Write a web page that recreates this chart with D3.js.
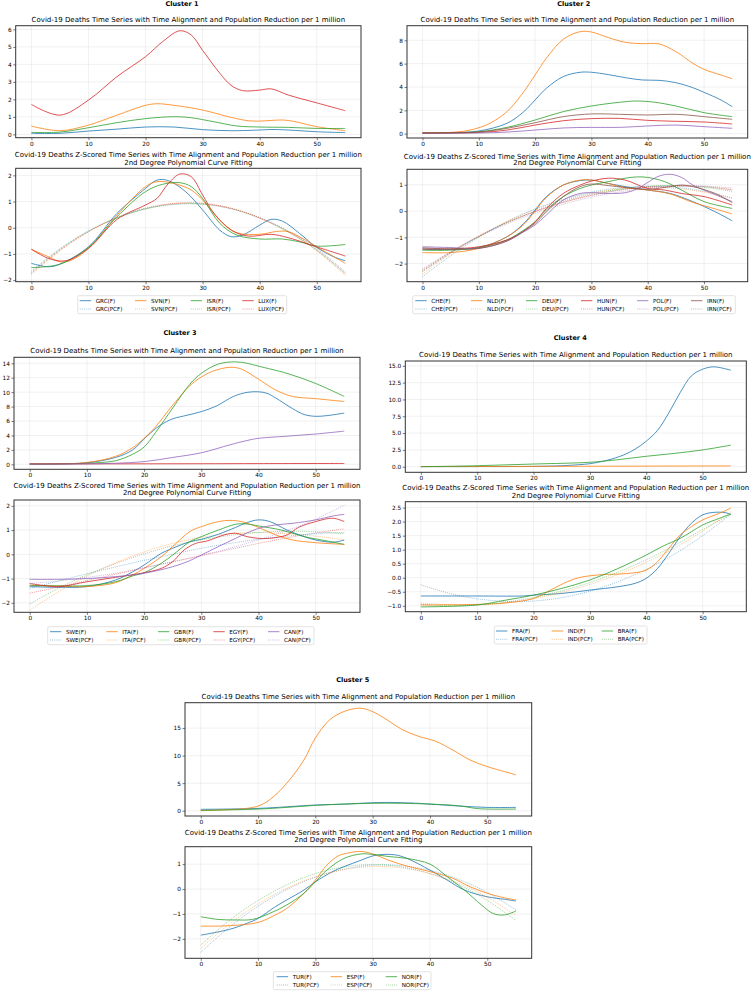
<!DOCTYPE html>
<html><head><meta charset="utf-8">
<script src="https://cdn.jsdelivr.net/npm/d3@7"></script>
<style>body{margin:0;background:#fff}svg{display:block}text{font-family:"DejaVu Sans",sans-serif;fill:#000}</style>
</head><body><svg id="c" width="754" height="992"></svg>
<script>
// ---------------- DATA ----------------
const xTicks = [0, 10, 20, 30, 40, 50];
const pcfX = [0, 5, 10, 15, 20, 25, 30, 35, 40, 45, 50, 55];

// Cluster 1
const c1Countries = ["GRC", "SVN", "ISR", "LUX"];
const c1TopTicks = [0, 1, 2, 3, 4, 5, 6];
const c1ZTicks = [-2, -1, 0, 1, 2];
const c1Deaths = {
  GRC: [[0,0.06],[5,0.06],[10,0.19],[15,0.3],[20,0.42],[25,0.42],[30,0.27],[35,0.21],[40,0.25],[42,0.28],[45,0.25],[50,0.15],[55,0.1]],
  SVN: [[0,0.47],[5,0.21],[10,0.53],[15,1.1],[20,1.66],[22,1.75],[25,1.66],[30,1.39],[35,0.97],[38,0.78],[40,0.76],[44,0.82],[46,0.74],[50,0.44],[55,0.21]],
  ISR: [[0,0.11],[5,0.13],[10,0.38],[15,0.67],[20,0.9],[25,1.01],[28,0.95],[32,0.72],[36,0.48],[40,0.42],[45,0.4],[50,0.34],[55,0.34]],
  LUX: [[0,1.71],[5,1.1],[10,1.96],[15,3.3],[20,4.44],[23,5.3],[26,5.92],[28,5.68],[30,4.8],[33,3.5],[35,2.8],[37,2.5],[40,2.53],[42,2.6],[45,2.25],[50,1.8],[55,1.35]]
};
const c1Z = {
  GRC: [[0,-1.36],[3,-1.49],[5,-1.39],[10,-0.73],[15,0.55],[20,1.5],[22,1.82],[24,1.8],[27,1.38],[30,0.68],[33,-0.09],[35,-0.34],[37,-0.28],[40,0.1],[42,0.32],[44,0.25],[47,-0.22],[50,-0.75],[53,-1.11],[55,-1.26]],
  SVN: [[0,-0.83],[3,-1.11],[5,-1.3],[7,-1.24],[10,-0.79],[15,0.48],[20,1.57],[22,1.76],[25,1.69],[28,1.44],[30,1.06],[33,0.29],[36,-0.19],[40,-0.25],[43,-0.14],[45,-0.15],[48,-0.47],[50,-0.73],[55,-1.36]],
  ISR: [[0,-1.52],[5,-1.39],[10,-0.75],[15,0.42],[20,1.38],[23,1.66],[26,1.72],[28,1.57],[30,1.12],[33,0.17],[36,-0.28],[40,-0.43],[44,-0.43],[47,-0.54],[50,-0.7],[55,-0.64]],
  LUX: [[0,-0.82],[3,-1.17],[6,-1.26],[10,-0.79],[15,0.32],[20,0.87],[22,1.12],[24,1.69],[26,2.05],[28,1.95],[30,1.25],[32,0.55],[35,-0.09],[38,-0.32],[42,-0.25],[45,-0.38],[50,-0.73],[55,-1.08]]
};
const c1PCF = {
  GRC: [-1.65,-0.80,-0.12,0.38,0.72,0.89,0.90,0.73,0.39,-0.12,-0.80,-1.68],
  SVN: [-1.78,-0.88,-0.16,0.37,0.73,0.92,0.93,0.75,0.38,-0.16,-0.88,-1.82],
  ISR: [-1.70,-0.83,-0.13,0.38,0.72,0.90,0.90,0.72,0.36,-0.16,-0.86,-1.76],
  LUX: [-1.74,-0.86,-0.15,0.39,0.75,0.93,0.93,0.74,0.37,-0.15,-0.85,-1.74]
};

// Cluster 2
const c2Countries = ["CHE", "NLD", "DEU", "HUN", "POL", "IRN"];
const c2TopTicks = [0, 2, 4, 6, 8];
const c2ZTicks = [-2, -1, 0, 1];
const c2Deaths = {
  CHE: [[0,0.06],[5,0.09],[10,0.23],[15,0.89],[18,1.89],[20,2.89],[22,3.89],[25,4.89],[28,5.26],[30,5.26],[33,5.06],[36,4.8],[39,4.6],[42,4.57],[45,4.37],[48,3.94],[50,3.54],[53,2.89],[55,2.31]],
  NLD: [[0,0.09],[5,0.11],[8,0.26],[10,0.51],[12,0.89],[15,1.89],[18,3.6],[20,5.03],[22,6.46],[25,8.09],[28,8.74],[30,8.71],[33,8.23],[36,7.83],[39,7.71],[42,7.69],[45,7.03],[48,6.03],[50,5.51],[53,5.03],[55,4.71]],
  DEU: [[0,0.06],[10,0.17],[15,0.54],[20,1.17],[25,1.89],[30,2.37],[35,2.69],[38,2.8],[41,2.71],[45,2.37],[50,1.8],[55,1.46]],
  HUN: [[0,0.06],[10,0.11],[15,0.31],[20,0.74],[25,1.11],[30,1.29],[35,1.31],[40,1.14],[45,1.06],[50,1.0],[55,0.83]],
  POL: [[0,0.03],[10,0.06],[15,0.14],[20,0.31],[25,0.49],[30,0.54],[35,0.54],[40,0.66],[45,0.74],[50,0.6],[55,0.46]],
  IRN: [[0,0.06],[10,0.14],[15,0.46],[20,0.94],[25,1.46],[30,1.69],[35,1.66],[40,1.6],[45,1.66],[50,1.46],[55,1.23]]
};
const c2Z = {
  CHE: [[0,-1.46],[5,-1.46],[10,-1.39],[15,-0.98],[18,-0.47],[20,0.04],[22,0.55],[25,0.99],[28,1.16],[30,1.18],[33,1.05],[36,0.93],[40,0.8],[44,0.67],[48,0.36],[52,-0.03],[55,-0.37]],
  NLD: [[0,-1.58],[5,-1.58],[10,-1.42],[15,-0.98],[18,-0.51],[20,0],[22,0.52],[25,0.99],[28,1.18],[30,1.18],[33,1.05],[36,0.89],[40,0.8],[44,0.65],[48,0.33],[52,0.08],[55,-0.11]],
  DEU: [[0,-1.49],[5,-1.49],[10,-1.39],[15,-1.1],[18,-0.72],[20,-0.41],[22,0.04],[25,0.55],[28,0.86],[30,0.99],[33,1.12],[36,1.25],[38,1.3],[40,1.28],[43,1.12],[46,0.8],[50,0.36],[55,0.1]],
  HUN: [[0,-1.44],[5,-1.44],[10,-1.36],[15,-1.1],[18,-0.76],[20,-0.41],[22,0.1],[25,0.67],[28,0.99],[30,1.14],[33,1.25],[36,1.18],[40,0.86],[43,0.8],[46,0.67],[50,0.55],[55,0.23]],
  POL: [[0,-1.36],[5,-1.39],[10,-1.42],[15,-1.14],[18,-0.79],[20,-0.53],[22,-0.15],[25,0.42],[28,0.67],[30,0.7],[33,0.67],[36,0.7],[38,0.83],[40,1.09],[42,1.33],[44,1.4],[46,1.28],[48,0.99],[50,0.8],[55,0.36]],
  IRN: [[0,-1.4],[10,-1.42],[15,-1.14],[18,-0.76],[20,-0.47],[22,-0.03],[25,0.55],[28,0.93],[30,1.03],[33,0.97],[36,0.9],[40,0.83],[44,0.93],[46,0.99],[48,0.93],[52,0.67],[55,0.32]]
};
const c2PCF = {
  CHE: [-2.5,-1.7,-1.0,-0.4,0.08,0.45,0.72,0.88,0.94,0.9,0.75,0.5],
  NLD: [-2.4,-1.62,-0.96,-0.4,0.06,0.42,0.68,0.84,0.9,0.86,0.72,0.48],
  DEU: [-2.3,-1.6,-0.98,-0.44,0.0,0.37,0.65,0.84,0.95,0.97,0.9,0.75],
  HUN: [-2.25,-1.56,-0.95,-0.44,-0.02,0.33,0.6,0.8,0.92,0.96,0.93,0.82],
  POL: [-2.2,-1.55,-0.98,-0.49,-0.08,0.26,0.53,0.73,0.87,0.94,0.95,0.88],
  IRN: [-2.3,-1.58,-0.96,-0.44,-0.02,0.33,0.6,0.8,0.92,0.96,0.93,0.8]
};

// Cluster 3
const c3Countries = ["SWE", "ITA", "GBR", "EGY", "CAN"];
const c3TopTicks = [0, 2, 4, 6, 8, 10, 12, 14];
const c3ZTicks = [-2, -1, 0, 1, 2];
const c3Deaths = {
  SWE: [[0,0.05],[5,0.07],[10,0.22],[15,0.95],[18,2.0],[20.5,3.9],[22.8,5.4],[25,6.3],[27.5,6.8],[30,7.3],[32.7,8.1],[35.6,9.4],[38,9.97],[40,10.05],[41.5,9.84],[43,9.2],[46,7.7],[48,6.9],[50,6.65],[52,6.75],[55,7.1]],
  ITA: [[0,0.05],[5,0.07],[10,0.25],[15,1.1],[18,2.3],[20,3.6],[22,5.2],[25,8.2],[28,10.9],[30,12.1],[32,12.9],[35,13.45],[37,13.2],[40,11.8],[43,10.3],[46,9.4],[50,9.1],[55,8.7]],
  GBR: [[0,0.03],[5,0.05],[10,0.15],[15,0.5],[18,1.4],[20,2.4],[22,4.4],[25,7.8],[28,11.1],[30,12.6],[33,13.9],[36,14.2],[38,14.0],[40,13.6],[45,12.6],[50,11.2],[55,9.4]],
  EGY: [[0,0.05],[10,0.06],[20,0.07],[30,0.08],[40,0.1],[55,0.12]],
  CAN: [[0,0.02],[5,0.03],[10,0.06],[15,0.15],[20,0.37],[25,0.95],[30,1.6],[35,2.7],[38,3.3],[40,3.6],[45,3.9],[50,4.2],[55,4.6]]
};
const c3Z = {
  SWE: [[0,-1.33],[5,-1.36],[10,-1.33],[15,-1.06],[18,-0.72],[20,-0.44],[23,0.04],[25,0.25],[28,0.52],[30,0.62],[33,0.83],[36,1.11],[38,1.31],[40,1.42],[42,1.35],[45,1.0],[48,0.73],[50,0.59],[53,0.5],[55,0.59]],
  ITA: [[0,-1.27],[5,-1.31],[10,-1.33],[15,-1.17],[18,-0.85],[20,-0.58],[23,-0.1],[25,0.32],[28,0.94],[30,1.14],[33,1.35],[35,1.4],[37,1.35],[40,1.11],[43,0.8],[46,0.59],[50,0.48],[55,0.41]],
  GBR: [[0,-1.29],[5,-1.3],[10,-1.29],[15,-1.13],[18,-0.89],[20,-0.76],[23,-0.37],[25,-0.03],[28,0.52],[30,0.73],[33,1.0],[36,1.24],[38,1.25],[40,1.17],[44,1.0],[48,0.73],[52,0.55],[55,0.41]],
  EGY: [[0,-1.2],[5,-1.33],[10,-1.13],[15,-0.95],[20,-0.76],[23,-0.58],[25,-0.3],[27,0.18],[29,0.45],[31,0.55],[34,0.8],[36,0.87],[38,0.73],[40,0.66],[42,0.66],[45,0.8],[47,1.11],[50,1.35],[53,1.49],[55,1.35]],
  CAN: [[0,-1.03],[5,-1.03],[10,-1.0],[15,-0.92],[20,-0.78],[25,-0.51],[28,-0.26],[30,-0.03],[33,0.32],[36,0.66],[40,1.07],[43,1.21],[46,1.28],[50,1.42],[53,1.58],[55,1.65]]
};
const c3PCF = {
  SWE: [-1.4,-1.1,-0.8,-0.52,-0.25,0.0,0.25,0.45,0.62,0.75,0.85,0.9],
  ITA: [-2.3,-1.55,-0.9,-0.35,0.1,0.45,0.7,0.85,0.9,0.85,0.75,0.6],
  GBR: [-2.05,-1.4,-0.85,-0.38,0.02,0.35,0.6,0.78,0.9,0.95,0.93,0.85],
  EGY: [-1.6,-1.35,-1.08,-0.82,-0.56,-0.3,-0.05,0.2,0.45,0.68,0.88,1.05],
  CAN: [-1.2,-1.1,-0.95,-0.78,-0.55,-0.32,-0.05,0.25,0.6,0.98,1.45,2.03]
};

// Cluster 4
const c4Countries = ["FRA", "IND", "BRA"];
const c4TopTicks = [0, 2.5, 5, 7.5, 10, 12.5, 15];
const c4ZTicks = [-1, -0.5, 0, 0.5, 1, 1.5, 2, 2.5];
const c4Deaths = {
  FRA: [[0,0.02],[10,0.02],[20,0.05],[25,0.15],[28,0.3],[30,0.45],[33,0.95],[36,1.75],[38,2.6],[40,3.8],[42,5.4],[44,8.0],[46,11.0],[48,13.5],[50,14.5],[52,14.85],[55,14.35]],
  IND: [[0,0.02],[10,0.03],[20,0.05],[30,0.07],[40,0.09],[50,0.11],[55,0.12]],
  BRA: [[0,0.0],[10,0.15],[20,0.4],[30,0.66],[35,1.05],[40,1.55],[45,1.98],[50,2.5],[55,3.2]]
};
const c4Z = {
  FRA: [[0,-0.65],[10,-0.65],[18,-0.65],[20,-0.62],[25,-0.56],[30,-0.44],[35,-0.32],[38,-0.2],[40,-0.02],[42,0.33],[44,0.87],[46,1.46],[48,1.94],[50,2.24],[52,2.33],[54,2.32],[55,2.26]],
  IND: [[0,-0.97],[10,-0.95],[15,-0.9],[20,-0.74],[23,-0.44],[26,-0.14],[28,0.0],[30,0.07],[33,0.12],[35,0.13],[38,0.18],[40,0.27],[42,0.57],[44,1.05],[46,1.52],[48,1.82],[50,2.06],[53,2.3],[55,2.48]],
  BRA: [[0,-1.04],[10,-0.97],[15,-0.8],[20,-0.62],[25,-0.38],[30,-0.08],[35,0.33],[40,0.81],[43,1.13],[46,1.4],[48,1.64],[50,1.88],[53,2.12],[55,2.27]]
};
const c4PCF = {
  FRA: [-0.25,-0.55,-0.75,-0.84,-0.83,-0.71,-0.48,-0.14,0.3,0.84,1.5,2.26],
  IND: [-0.9,-0.96,-0.96,-0.89,-0.74,-0.52,-0.24,0.12,0.55,1.06,1.66,2.35],
  BRA: [-0.95,-1.0,-0.97,-0.87,-0.7,-0.47,-0.17,0.2,0.64,1.15,1.72,2.25]
};

// Cluster 5
const c5Countries = ["TUR", "ESP", "NOR"];
const c5TopTicks = [0, 5, 10, 15];
const c5ZTicks = [-2, -1, 0, 1];
const c5Deaths = {
  TUR: [[0,0.25],[10,0.42],[20,1.03],[25,1.2],[30,1.45],[33,1.5],[38,1.34],[40,1.2],[45,0.85],[50,0.6],[55,0.6]],
  ESP: [[0,0.0],[5,0.2],[8,0.42],[10,0.85],[12,1.95],[15,4.98],[18,9.2],[20,13.2],[22.5,16.5],[25,18.0],[27.5,18.6],[29.5,18.2],[32.5,16.5],[35,14.8],[38,13.5],[41,12.6],[44,11.0],[47,9.2],[50,8.0],[53,7.1],[55,6.5]],
  NOR: [[0,0.06],[10,0.3],[15,0.6],[20,0.97],[25,1.2],[30,1.34],[35,1.34],[40,1.2],[45,0.9],[48,0.42],[50,0.3],[55,0.3]]
};
const c5Z = {
  TUR: [[0,-1.85],[5,-1.62],[8,-1.38],[10,-1.18],[13,-0.71],[15,-0.44],[18,-0.04],[20,0.29],[23,0.7],[25,0.9],[28,1.16],[30,1.33],[32,1.39],[34,1.37],[36,1.23],[40,0.76],[43,0.36],[46,-0.04],[50,-0.31],[53,-0.41],[55,-0.48]],
  ESP: [[0,-1.49],[5,-1.47],[10,-1.34],[13,-1.04],[15,-0.78],[18,-0.17],[20,0.36],[22,0.96],[24,1.33],[26,1.46],[28,1.51],[30,1.41],[33,1.14],[36,0.92],[40,0.7],[44,0.43],[47,0.09],[50,-0.17],[53,-0.35],[55,-0.44]],
  NOR: [[0,-1.11],[3,-1.22],[6,-1.24],[9,-1.22],[12,-0.98],[15,-0.64],[18,-0.17],[20,0.29],[22,0.76],[25,1.23],[28,1.41],[30,1.39],[33,1.3],[36,1.23],[40,1.0],[43,0.5],[46,-0.04],[49,-0.64],[51,-0.98],[53,-1.04],[55,-0.88]]
};
const c5PCF = {
  TUR: [-2.54,-1.53,-0.69,-0.02,0.48,0.8,0.96,0.94,0.75,0.39,-0.14,-0.84],
  ESP: [-2.38,-1.41,-0.6,0.03,0.49,0.78,0.9,0.85,0.62,0.23,-0.33,-1.06],
  NOR: [-2.25,-1.26,-0.46,0.17,0.62,0.89,0.98,0.89,0.62,0.17,-0.46,-1.26]
};

// ---------------- STYLE / LAYOUT ----------------
const colors = ["#1f77b4", "#ff7f0e", "#2ca02c", "#d62728", "#9467bd", "#8c564b"];
const TOPTITLE = "Covid-19 Deaths Time Series with Time Alignment and Population Reduction per 1 million";
const ZTITLE1 = "Covid-19 Deaths Z-Scored Time Series with Time Alignment and Population Reduction per 1 million";
const ZTITLE2 = "2nd Degree Polynomial Curve Fitting";

const clusters = [
  {name:"Cluster 1", countries:c1Countries, deaths:c1Deaths, z:c1Z, pcf:c1PCF, topTicks:c1TopTicks, zTicks:c1ZTicks, fmtTop:"d", fmtZ:"d",
   tx:182, ty:3.5, x0:15.7, x1:361,
   top:{y0:25.7, y1:137.7, dom:[-0.19,6.21], ty:20},
   bot:{y0:168.3, y1:281.7, dom:[-2.06,2.27], t1:155, t2:162.7},
   leg:{x0:77.7, x1:286.7, y0:295.7, cols:[95.7,151,206.7,258.3]}},
  {name:"Cluster 2", countries:c2Countries, deaths:c2Deaths, z:c2Z, pcf:c2PCF, topTicks:c2TopTicks, zTicks:c2ZTicks, fmtTop:"d", fmtZ:"d",
   tx:573.7, ty:3.5, x0:407, x1:747.7,
   top:{y0:25.7, y1:138, dom:[-0.37,9.25], ty:20},
   bot:{y0:169.3, y1:281.7, dom:[-2.69,1.59], t1:156.7, t2:163.3},
   leg:{x0:412.7, x1:735.3, y0:295.7, cols:[431.3,487,542,597,653,707]}},
  {name:"Cluster 3", countries:c3Countries, deaths:c3Deaths, z:c3Z, pcf:c3PCF, topTicks:c3TopTicks, zTicks:c3ZTicks, fmtTop:"d", fmtZ:"d",
   tx:180, ty:333.3, x0:14, x1:360,
   top:{y0:357.3, y1:469.3, dom:[-0.69,14.83], ty:350.7},
   bot:{y0:500, y1:612.3, dom:[-2.39,2.24], t1:485.7, t2:493.3},
   leg:{x0:47.7, x1:314, y0:626.7, cols:[66,122.3,174,229.3,284]}},
  {name:"Cluster 4", countries:c4Countries, deaths:c4Deaths, z:c4Z, pcf:c4PCF, topTicks:c4TopTicks, zTicks:c4ZTicks, fmtTop:".1f", fmtZ:".1f",
   tx:570.3, ty:338.3, x0:405.3, x1:746.3,
   top:{y0:361, y1:472.3, dom:[-0.83,15.72], ty:355},
   bot:{y0:501.7, y1:611.7, dom:[-1.21,2.71], t1:488.3, t2:496},
   leg:{x0:494.3, x1:647, y0:626, cols:[512,567.7,617.7]}},
  {name:"Cluster 5", countries:c5Countries, deaths:c5Deaths, z:c5Z, pcf:c5PCF, topTicks:c5TopTicks, zTicks:c5ZTicks, fmtTop:"d", fmtZ:"d",
   tx:352.7, ty:680, x0:185, x1:531.7,
   top:{y0:702.7, y1:816, dom:[-0.96,19.6], ty:697.3},
   bot:{y0:846.7, y1:958.3, dom:[-2.78,1.7], t1:832.7, t2:840},
   leg:{x0:273.3, x1:431, y0:971.7, cols:[292.7,346.7,401.7]}}
];

const svg = d3.select("#c");
const TITLE_FS = 7, TICK_FS = 5.8, LEG_FS = 5.6;

function text(g, x, y, s, fs, opts = {}) {
  return g.append("text").attr("x", x).attr("y", y).attr("text-anchor", opts.anchor || "middle")
    .attr("dominant-baseline", "central").attr("font-size", fs)
    .attr("font-weight", opts.bold ? "bold" : null).text(s);
}

function axesBox(g, c, a, yTicks, fmt) {
  const x = d3.scaleLinear([-2.75, 57.75], [c.x0, c.x1]);
  const y = d3.scaleLinear(a.dom, [a.y1, a.y0]);
  const grid = g.append("g").attr("stroke", "#b0b0b0").attr("stroke-opacity", 0.35).attr("stroke-width", 0.5);
  xTicks.forEach(t => grid.append("line").attr("x1", x(t)).attr("x2", x(t)).attr("y1", a.y0).attr("y2", a.y1));
  yTicks.forEach(t => grid.append("line").attr("x1", c.x0).attr("x2", c.x1).attr("y1", y(t)).attr("y2", y(t)));
  const xa = g.append("g").attr("transform", `translate(0,${a.y1})`)
    .call(d3.axisBottom(x).tickValues(xTicks).tickSize(2.5).tickPadding(1.5).tickFormat(d3.format("d")));
  const ya = g.append("g").attr("transform", `translate(${c.x0},0)`)
    .call(d3.axisLeft(y).tickValues(yTicks).tickSize(2.5).tickPadding(1.5).tickFormat(d3.format(fmt)));
  [xa, ya].forEach(ax => {
    ax.select(".domain").remove();
    ax.selectAll("line").attr("stroke", "#222").attr("stroke-width", 0.6);
    ax.selectAll("text").attr("font-size", TICK_FS).attr("font-family", "DejaVu Sans").attr("fill", "#000");
  });
  return {x, y};
}

function frame(g, c, a) {
  g.append("rect").attr("x", c.x0).attr("y", a.y0).attr("width", c.x1 - c.x0).attr("height", a.y1 - a.y0)
    .attr("fill", "none").attr("stroke", "#333").attr("stroke-width", 1);
}

clusters.forEach(c => {
  const g = svg.append("g");
  text(g, c.tx, c.ty, c.name, 6.5, {bold: true});
  const cx = (c.x0 + c.x1) / 2;

  // top panel
  text(g, cx, c.top.ty, TOPTITLE, TITLE_FS);
  const s1 = axesBox(g, c, c.top, c.topTicks, c.fmtTop);
  const clip1 = "clipT" + c.name.slice(-1);
  g.append("clipPath").attr("id", clip1).append("rect").attr("x", c.x0).attr("y", c.top.y0).attr("width", c.x1 - c.x0).attr("height", c.top.y1 - c.top.y0);
  const line1 = d3.line().x(d => s1.x(d[0])).y(d => s1.y(d[1])).curve(d3.curveCatmullRom.alpha(0.5));
  const lt = g.append("g").attr("clip-path", `url(#${clip1})`);
  c.countries.forEach((k, i) => {
    lt.append("path").attr("d", line1(c.deaths[k])).attr("fill", "none")
      .attr("stroke", colors[i]).attr("stroke-opacity", 0.8).attr("stroke-width", 1);
  });
  frame(g, c, c.top);

  // z panel
  text(g, cx, c.bot.t1, ZTITLE1, TITLE_FS);
  text(g, cx, c.bot.t2, ZTITLE2, TITLE_FS);
  const s2 = axesBox(g, c, c.bot, c.zTicks, c.fmtZ);
  const clip2 = "clipB" + c.name.slice(-1);
  g.append("clipPath").attr("id", clip2).append("rect").attr("x", c.x0).attr("y", c.bot.y0).attr("width", c.x1 - c.x0).attr("height", c.bot.y1 - c.bot.y0);
  const line2 = d3.line().x(d => s2.x(d[0])).y(d => s2.y(d[1])).curve(d3.curveCatmullRom.alpha(0.5));
  const lineP = d3.line().x((d, j) => s2.x(pcfX[j])).y(d => s2.y(d)).curve(d3.curveNatural);
  const lb = g.append("g").attr("clip-path", `url(#${clip2})`);
  c.countries.forEach((k, i) => {
    lb.append("path").attr("d", line2(c.z[k])).attr("fill", "none")
      .attr("stroke", colors[i]).attr("stroke-opacity", 0.8).attr("stroke-width", 1);
    lb.append("path").attr("d", lineP(c.pcf[k])).attr("fill", "none")
      .attr("stroke", colors[i]).attr("stroke-opacity", 0.5).attr("stroke-width", 0.9).attr("stroke-dasharray", "1,1.1");
  });
  frame(g, c, c.bot);

  // legend
  const L = c.leg;
  g.append("rect").attr("x", L.x0).attr("y", L.y0).attr("width", L.x1 - L.x0).attr("height", 18)
    .attr("rx", 1.5).attr("fill", "#fff").attr("fill-opacity", 0.8).attr("stroke", "#d0d0d0").attr("stroke-width", 0.6);
  c.countries.forEach((k, i) => {
    const tx = L.cols[i];
    const r1 = L.y0 + 5, r2 = L.y0 + 13.3;
    g.append("line").attr("x1", tx - 16).attr("x2", tx - 4.6).attr("y1", r1).attr("y2", r1)
      .attr("stroke", colors[i]).attr("stroke-opacity", 0.8).attr("stroke-width", 1);
    g.append("line").attr("x1", tx - 16).attr("x2", tx - 4.6).attr("y1", r2).attr("y2", r2)
      .attr("stroke", colors[i]).attr("stroke-opacity", 0.5).attr("stroke-width", 0.9).attr("stroke-dasharray", "1,1.1");
    text(g, tx, r1, `${k}(F)`, LEG_FS, {anchor: "start"});
    text(g, tx, r2, `${k}(PCF)`, LEG_FS, {anchor: "start"});
  });
});
</script></body></html>
